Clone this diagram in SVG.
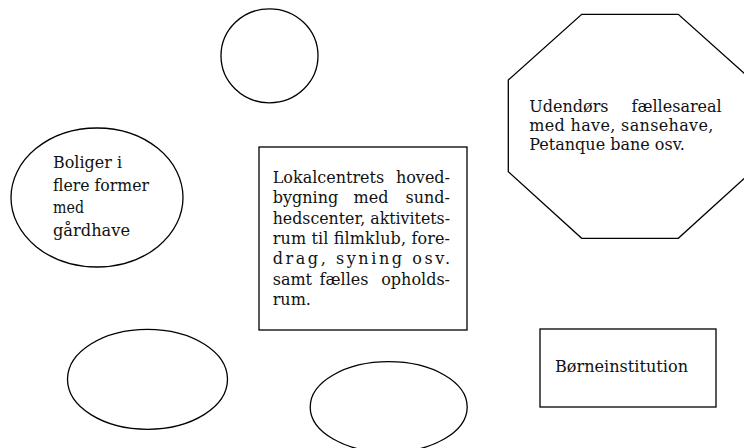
<svg xmlns="http://www.w3.org/2000/svg" width="744" height="448" viewBox="0 0 744 448">
<style>
.s{fill:#fff;stroke:#000;stroke-width:1.3}
.t{font-family:"DejaVu Serif","Liberation Serif",serif;font-size:16px;fill:#111}
.m{text-anchor:middle}
.e{text-anchor:end}
</style>
<rect width="744" height="448" fill="#fff"/>
<g id="ellipse-top">
<ellipse class="s" cx="269.5" cy="55.8" rx="48.5" ry="47"/>
</g>
<g id="boliger">
<ellipse class="s" cx="97" cy="197.5" rx="86" ry="69.5"/>
<text class="t" x="53" y="168" textLength="69" lengthAdjust="spacingAndGlyphs">Boliger i</text>
<text class="t" x="53" y="190.5" textLength="96" lengthAdjust="spacingAndGlyphs">flere former</text>
<text class="t" x="53" y="213" textLength="31" lengthAdjust="spacingAndGlyphs">med</text>
<text class="t" x="53" y="235.5" textLength="77" lengthAdjust="spacingAndGlyphs">gårdhave</text>
</g>
<g id="lokalcenter">
<rect class="s" x="259" y="147" width="208" height="183"/>
<text class="t"><tspan x="272.7" y="183">Lokalcentrets</tspan><tspan class="e" x="450" y="183">hoved-</tspan></text>
<text class="t"><tspan x="272.7" y="203.3">bygning</tspan><tspan class="m" x="371" y="203.3">med</tspan><tspan class="e" x="450" y="203.3">sund-</tspan></text>
<text class="t" x="272.7" y="223.6" textLength="177.3" lengthAdjust="spacingAndGlyphs">hedscenter, aktivitets-</text>
<text class="t" x="272.7" y="243.9" textLength="177.3" lengthAdjust="spacing">rum til filmklub, fore-</text>
<text class="t" x="272.7" y="264.2" textLength="177.3" lengthAdjust="spacing">drag, syning osv.</text>
<text class="t"><tspan x="272.7" y="284.5">samt</tspan><tspan class="m" x="344" y="284.5">fælles</tspan><tspan class="e" x="450" y="284.5">opholds-</tspan></text>
<text class="t" x="272.7" y="304.8">rum.</text>
</g>
<g id="udendoers">
<polygon class="s" points="581.7,14.3 678.3,14.3 751.7,80 751.7,171.7 678.3,238.3 581.7,238.3 508.3,171.7 508.3,80"/>
<text class="t"><tspan x="529.3" y="111.7">Udendørs</tspan><tspan class="e" x="721.7" y="111.7">fællesareal</tspan></text>
<text class="t" x="529.3" y="131" textLength="184" lengthAdjust="spacing">med have, sansehave,</text>
<text class="t" x="529.3" y="150">Petanque bane osv.</text>
</g>
<g id="boerneinstitution">
<rect class="s" x="540" y="329" width="176" height="78"/>
<text class="t" x="555" y="372" textLength="133" lengthAdjust="spacingAndGlyphs">Børneinstitution</text>
</g>
<g id="ellipse-bottom-left">
<ellipse class="s" cx="147.5" cy="379.3" rx="80" ry="50"/>
</g>
<g id="ellipse-bottom-middle">
<ellipse class="s" cx="388.7" cy="407" rx="78.5" ry="45.3"/>
</g>
<g id="connectors"/>
</svg>
